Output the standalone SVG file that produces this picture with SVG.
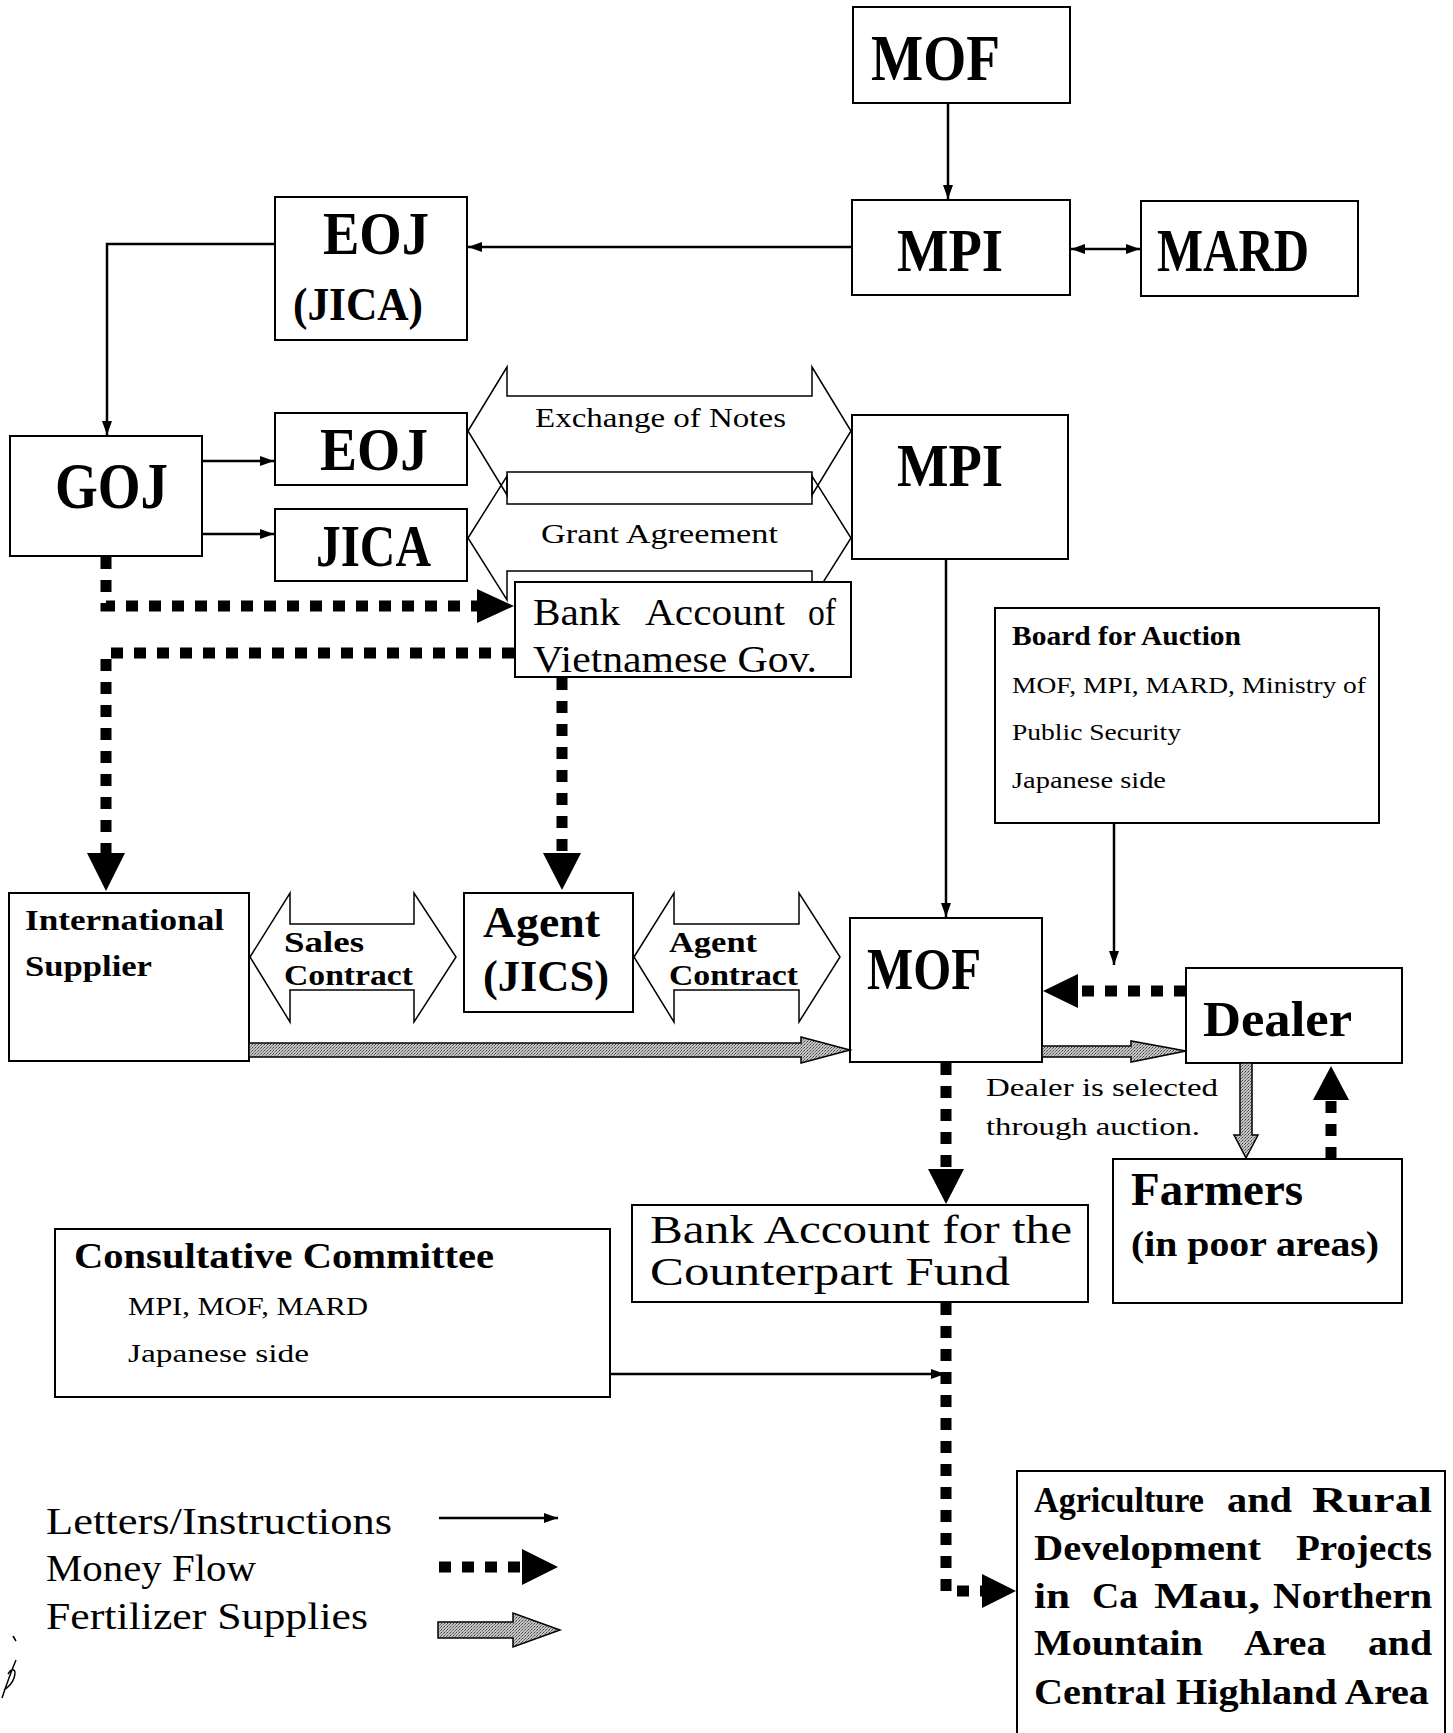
<svg xmlns="http://www.w3.org/2000/svg" width="1453" height="1733" viewBox="0 0 1453 1733">
<style>
.box{fill:#fff;stroke:#000;stroke-width:2}
.ln{stroke:#000;stroke-width:2.5;fill:none}
.money{stroke:#000;stroke-width:11;stroke-dasharray:12 11;fill:none}
.head{fill:#000;stroke:none}
.fert{fill:url(#dots);stroke:#000;stroke-width:1.5}
.dbl{fill:none;stroke:#000;stroke-width:1.5}
.b{font-family:"Liberation Serif","DejaVu Serif",serif;font-weight:bold;fill:#000}
.r{font-family:"Liberation Serif","DejaVu Serif",serif;fill:#000}
</style>
<defs>
<pattern id="dots" width="3" height="3" patternUnits="userSpaceOnUse">
<rect width="3" height="3" fill="#c4c4c4"/>
<rect x="0" y="0" width="1" height="1" fill="#444"/>
<rect x="2" y="1" width="1" height="1" fill="#666"/>
<rect x="1" y="2" width="1" height="1" fill="#888"/>
</pattern>
<marker id="ah" markerUnits="userSpaceOnUse" markerWidth="14" markerHeight="10" refX="14" refY="5" orient="auto-start-reverse">
<path d="M0,0 L14,5 L0,10 Z" fill="#000"/>
</marker>
</defs>

<g id="contracts">
<path class="dbl" d="M468,431 L507,367 L507,396 L812,396 L812,367 L851,431 L812,495 L812,472 L507,472 L507,495 Z"/>
<path class="dbl" d="M468,538 L507,476 L507,504 L812,504 L812,476 L851,538 L812,600 L812,571 L507,571 L507,600 Z"/>
<text class="r" x="535" y="427" font-size="27" textLength="251" lengthAdjust="spacingAndGlyphs">Exchange of Notes</text>
<text class="r" x="541" y="543" font-size="27" textLength="237" lengthAdjust="spacingAndGlyphs">Grant Agreement</text>
<path class="dbl" d="M250,957 L290,893 L290,924 L414,924 L414,893 L456,957 L414,1022 L414,990 L290,990 L290,1022 Z"/>
<text class="b" x="284" y="952" font-size="30" textLength="80" lengthAdjust="spacingAndGlyphs">Sales</text>
<text class="b" x="284" y="985" font-size="30" textLength="129" lengthAdjust="spacingAndGlyphs">Contract</text>
<path class="dbl" d="M634,957 L674,893 L674,924 L799,924 L799,893 L840,957 L799,1022 L799,990 L674,990 L674,1022 Z"/>
<text class="b" x="669" y="952" font-size="30" textLength="88" lengthAdjust="spacingAndGlyphs">Agent</text>
<text class="b" x="669" y="985" font-size="30" textLength="129" lengthAdjust="spacingAndGlyphs">Contract</text>
</g>

<g id="mof-top"><rect class="box" x="853" y="7" width="217" height="96"/>
<text class="b" x="871" y="80" font-size="66" textLength="129" lengthAdjust="spacingAndGlyphs">MOF</text></g>
<g id="mpi-top"><rect class="box" x="852" y="200" width="218" height="95"/>
<text class="b" x="897" y="271" font-size="62" textLength="106" lengthAdjust="spacingAndGlyphs">MPI</text></g>
<g id="mard"><rect class="box" x="1141" y="201" width="217" height="95"/>
<text class="b" x="1157" y="271" font-size="62" textLength="152" lengthAdjust="spacingAndGlyphs">MARD</text></g>
<g id="eoj-jica"><rect class="box" x="275" y="197" width="192" height="143"/>
<text class="b" x="323" y="254" font-size="62" textLength="106" lengthAdjust="spacingAndGlyphs">EOJ</text>
<text class="b" x="293" y="320" font-size="46" textLength="130" lengthAdjust="spacingAndGlyphs">(JICA)</text></g>
<g id="goj"><rect class="box" x="10" y="436" width="192" height="120"/>
<text class="b" x="55" y="508" font-size="66" textLength="113" lengthAdjust="spacingAndGlyphs">GOJ</text></g>
<g id="eoj"><rect class="box" x="275" y="413" width="192" height="72"/>
<text class="b" x="320" y="470" font-size="62" textLength="108" lengthAdjust="spacingAndGlyphs">EOJ</text></g>
<g id="jica"><rect class="box" x="275" y="509" width="192" height="72"/>
<text class="b" x="316" y="566" font-size="59" textLength="115" lengthAdjust="spacingAndGlyphs">JICA</text></g>
<g id="mpi-mid"><rect class="box" x="852" y="415" width="216" height="144"/>
<text class="b" x="897" y="486" font-size="62" textLength="106" lengthAdjust="spacingAndGlyphs">MPI</text></g>
<g id="bank-vn"><rect class="box" x="515" y="582" width="336" height="95"/>
<text class="r" font-size="38" x="533" y="625" textLength="87" lengthAdjust="spacingAndGlyphs">Bank</text>
<text class="r" font-size="38" x="645" y="625" textLength="140" lengthAdjust="spacingAndGlyphs">Account</text>
<text class="r" font-size="38" x="808" y="625" textLength="28" lengthAdjust="spacingAndGlyphs">of</text>
<text class="r" x="533" y="672" font-size="38" textLength="284" lengthAdjust="spacingAndGlyphs">Vietnamese Gov.</text></g>
<g id="board"><rect class="box" x="995" y="608" width="384" height="215"/>
<text class="b" x="1012" y="645" font-size="27" textLength="229" lengthAdjust="spacingAndGlyphs">Board for Auction</text>
<text class="r" x="1012" y="693" font-size="23" textLength="354" lengthAdjust="spacingAndGlyphs">MOF, MPI, MARD, Ministry of</text>
<text class="r" x="1012" y="740" font-size="23" textLength="169" lengthAdjust="spacingAndGlyphs">Public Security</text>
<text class="r" x="1012" y="788" font-size="23" textLength="154" lengthAdjust="spacingAndGlyphs">Japanese side</text></g>
<g id="supplier"><rect class="box" x="9" y="893" width="240" height="168"/>
<text class="b" x="25" y="930" font-size="30" textLength="199" lengthAdjust="spacingAndGlyphs">International</text>
<text class="b" x="25" y="976" font-size="30" textLength="127" lengthAdjust="spacingAndGlyphs">Supplier</text></g>
<g id="agent"><rect class="box" x="464" y="893" width="169" height="119"/>
<text class="b" x="483" y="937" font-size="44" textLength="117" lengthAdjust="spacingAndGlyphs">Agent</text>
<text class="b" x="483" y="991" font-size="44" textLength="126" lengthAdjust="spacingAndGlyphs">(JICS)</text></g>
<g id="mof-mid"><rect class="box" x="850" y="918" width="192" height="144"/>
<text class="b" x="867" y="989" font-size="60" textLength="114" lengthAdjust="spacingAndGlyphs">MOF</text></g>
<g id="dealer"><rect class="box" x="1186" y="968" width="216" height="95"/>
<text class="b" x="1203" y="1036" font-size="50" textLength="149" lengthAdjust="spacingAndGlyphs">Dealer</text></g>
<g id="dealer-note">
<text class="r" x="986" y="1096" font-size="26" textLength="232" lengthAdjust="spacingAndGlyphs">Dealer is selected</text>
<text class="r" x="986" y="1135" font-size="26" textLength="214" lengthAdjust="spacingAndGlyphs">through auction.</text></g>
<g id="farmers"><rect class="box" x="1113" y="1159" width="289" height="144"/>
<text class="b" x="1131" y="1205" font-size="46" textLength="172" lengthAdjust="spacingAndGlyphs">Farmers</text>
<text class="b" x="1131" y="1256" font-size="36" textLength="248" lengthAdjust="spacingAndGlyphs">(in poor areas)</text></g>
<g id="bank-cf"><rect class="box" x="632" y="1205" width="456" height="97"/>
<text class="r" x="650" y="1243" font-size="40" textLength="422" lengthAdjust="spacingAndGlyphs">Bank Account for the</text>
<text class="r" x="650" y="1285" font-size="40" textLength="360" lengthAdjust="spacingAndGlyphs">Counterpart Fund</text></g>
<g id="consultative"><rect class="box" x="55" y="1229" width="555" height="168"/>
<text class="b" x="74" y="1268" font-size="36" textLength="420" lengthAdjust="spacingAndGlyphs">Consultative Committee</text>
<text class="r" x="128" y="1315" font-size="26" textLength="240" lengthAdjust="spacingAndGlyphs">MPI, MOF, MARD</text>
<text class="r" x="128" y="1362" font-size="26" textLength="181" lengthAdjust="spacingAndGlyphs">Japanese side</text></g>
<g id="agriculture"><rect class="box" x="1017" y="1471" width="428" height="280"/>
<text class="b" font-size="36" x="1034" y="1512" textLength="170" lengthAdjust="spacingAndGlyphs">Agriculture</text>
<text class="b" font-size="36" x="1227" y="1512" textLength="65" lengthAdjust="spacingAndGlyphs">and</text>
<text class="b" font-size="36" x="1312" y="1512" textLength="120" lengthAdjust="spacingAndGlyphs">Rural</text>
<text class="b" font-size="36" x="1034" y="1560" textLength="227" lengthAdjust="spacingAndGlyphs">Development</text>
<text class="b" font-size="36" x="1296" y="1560" textLength="136" lengthAdjust="spacingAndGlyphs">Projects</text>
<text class="b" font-size="36" x="1034" y="1608" textLength="36" lengthAdjust="spacingAndGlyphs">in</text>
<text class="b" font-size="36" x="1092" y="1608" textLength="46" lengthAdjust="spacingAndGlyphs">Ca</text>
<text class="b" font-size="36" x="1154" y="1608" textLength="106" lengthAdjust="spacingAndGlyphs">Mau,</text>
<text class="b" font-size="36" x="1273" y="1608" textLength="159" lengthAdjust="spacingAndGlyphs">Northern</text>
<text class="b" font-size="36" x="1034" y="1655" textLength="169" lengthAdjust="spacingAndGlyphs">Mountain</text>
<text class="b" font-size="36" x="1244" y="1655" textLength="82" lengthAdjust="spacingAndGlyphs">Area</text>
<text class="b" font-size="36" x="1368" y="1655" textLength="64" lengthAdjust="spacingAndGlyphs">and</text>
<text class="b" x="1034" y="1704" font-size="36" textLength="395" lengthAdjust="spacingAndGlyphs">Central Highland Area</text></g>

<g id="connectors">
<path class="ln" d="M948,103 V199" marker-end="url(#ah)"/>
<path class="ln" d="M852,247 H468" marker-end="url(#ah)"/>
<path class="ln" d="M1071,249 H1140" marker-start="url(#ah)" marker-end="url(#ah)"/>
<path class="ln" d="M275,244 H107 V435" marker-end="url(#ah)"/>
<path class="ln" d="M202,461 H274" marker-end="url(#ah)"/>
<path class="ln" d="M202,534 H274" marker-end="url(#ah)"/>
<path class="ln" d="M946,559 V917" marker-end="url(#ah)"/>
<path class="ln" d="M1114,823 V965" marker-end="url(#ah)"/>
<path class="ln" d="M610,1374 H945" marker-end="url(#ah)"/>

<path class="money" d="M106,557 V606 H478"/>
<polygon class="head" points="477,589 514,606 477,623"/>
<path class="money" d="M514,653 H106 V855"/>
<polygon class="head" points="87,853 106,891 125,853"/>
<path class="money" d="M562,678 V855"/>
<polygon class="head" points="543,853 562,890 581,853"/>
<path class="money" d="M1186,991 H1078"/>
<polygon class="head" points="1078,974 1043,991 1078,1008"/>
<path class="money" d="M946,1063 V1170"/>
<polygon class="head" points="928,1169 946,1204 964,1169"/>
<path class="money" d="M1331,1159 V1100"/>
<polygon class="head" points="1313,1100 1331,1066 1349,1100"/>
<path class="money" d="M946,1303 V1591 H982"/>
<polygon class="head" points="982,1574 1016,1591 982,1608"/>

<polygon class="fert" points="249,1043 801,1043 801,1037 850,1050 801,1063 801,1057 249,1057"/>
<polygon class="fert" points="1042,1046 1131,1046 1131,1041 1186,1051 1131,1062 1131,1057 1042,1057"/>
<polygon class="fert" points="1240,1063 1240,1135 1234,1135 1246,1158 1258,1135 1252,1135 1252,1063"/>
</g>

<g id="legend">
<text class="r" x="46" y="1534" font-size="37" textLength="346" lengthAdjust="spacingAndGlyphs">Letters/Instructions</text>
<text class="r" x="46" y="1581" font-size="37" textLength="210" lengthAdjust="spacingAndGlyphs">Money Flow</text>
<text class="r" x="46" y="1629" font-size="37" textLength="322" lengthAdjust="spacingAndGlyphs">Fertilizer Supplies</text>
<path class="ln" d="M439,1518 H558" marker-end="url(#ah)"/>
<path class="money" d="M439,1567 H522"/>
<polygon class="head" points="522,1549 558,1567 522,1585"/>
<polygon class="fert" points="438,1622 513,1622 513,1613 560,1630 513,1647 513,1638 438,1638"/>
</g>

<g id="mark" fill="none" stroke="#000" stroke-width="1.5">
<path d="M13,1636 L16,1641"/>
<path d="M2,1698 C6,1686 11,1672 16,1660 M8,1674 C12,1668 17,1668 14,1678 C12,1684 7,1688 4,1690"/>
</g>
</svg>
